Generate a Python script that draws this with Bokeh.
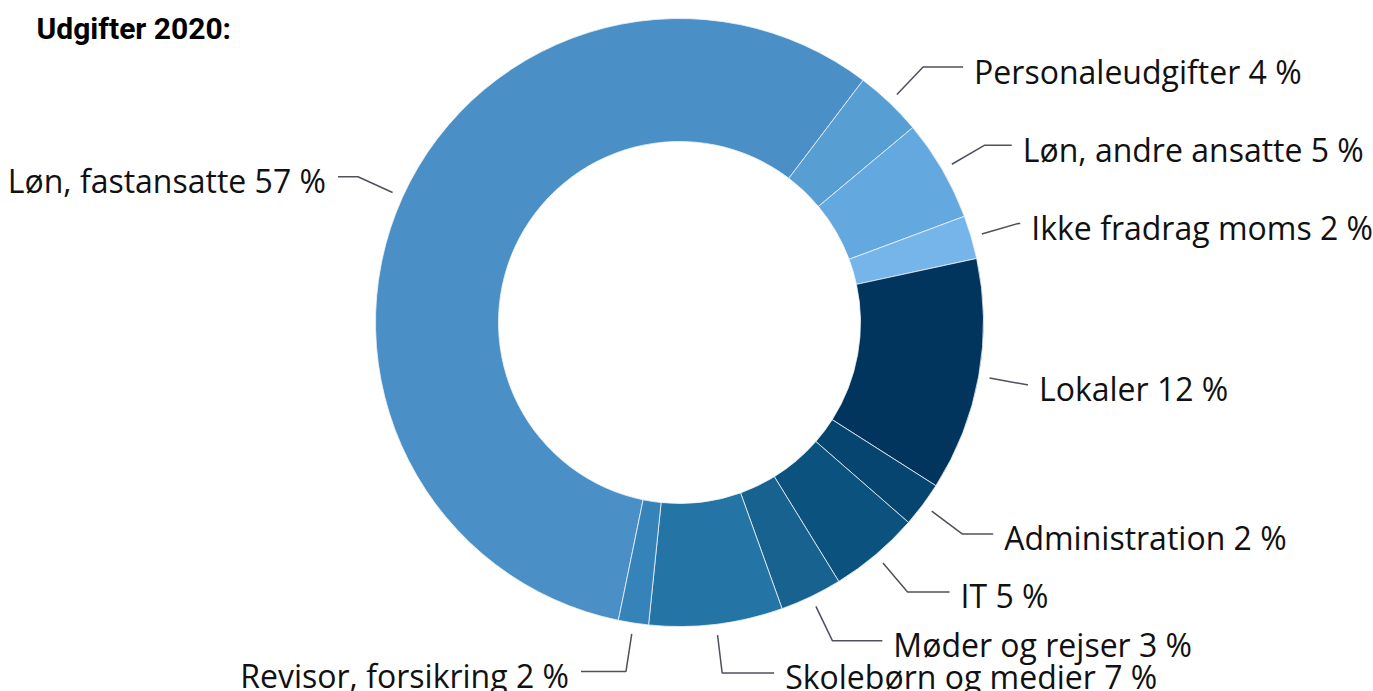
import math
from bokeh.plotting import figure
from bokeh.models import Range1d, ColumnDataSource
from bokeh.core.properties import value
from bokeh.embed import file_html
from bokeh.resources import INLINE

# ---- data ----
categories = ["Løn, fastansatte", "Personaleudgifter", "Løn, andre ansatte",
              "Ikke fradrag moms", "Lokaler", "Administration", "IT",
              "Møder og rejser", "Skolebørn og medier", "Revisor, forsikring"]
shares = [57.1, 3.6, 5.4, 2.3, 12.4, 2.4, 4.8, 3.3, 7.1, 1.6]
pct_labels = [57, 4, 5, 2, 12, 2, 5, 3, 7, 2]

# ---- styles / layout ----
colors = ["#4a90c6", "#579ed3", "#63a8de", "#75b5ea", "#02355d",
          "#05456f", "#0b527f", "#17628f", "#2474a5", "#3683b9"]
connector_len = [20, 40, 27, 2, 1, 31, 42, 50, 52, 45]
start_deg = 191.6          # clockwise from top
cx, cy = 679, -322
r_in, r_out = 181, 304
r_touch, r_break = 315, 353
label_drop = 4

W, H = 1373, 691
p = figure(width=W, height=H, output_backend="svg", toolbar_location=None,
           x_range=Range1d(0, W), y_range=Range1d(-H, 0),
           x_axis_type=None, y_axis_type=None, min_border=0,
           min_border_left=0, min_border_right=0, min_border_top=0, min_border_bottom=0)
p.outline_line_color = None
p.grid.visible = False
p.background_fill_color = "white"
p.border_fill_color = "white"

total = sum(shares)
starts, ends, mids = [], [], []
acc = start_deg
for s in shares:
    a0 = acc
    a1 = acc + s / total * 360.0
    starts.append(math.radians(90 - a0))
    ends.append(math.radians(90 - a1))
    mids.append((a0 + a1) / 2.0)
    acc = a1

src = ColumnDataSource(dict(start=starts, end=ends, color=colors))
p.annular_wedge(x=cx, y=cy, inner_radius=r_in, outer_radius=r_out,
                start_angle="start", end_angle="end", direction="clock",
                fill_color="color", line_color="#eef4fa", line_width=0.8, source=src)

# connectors and labels
for cat, pct, m, L in zip(categories, pct_labels, mids, connector_len):
    th = math.radians(m)
    sx, sy = math.sin(th), math.cos(th)
    tx, ty = cx + r_touch * sx, cy + r_touch * sy
    bx, by = cx + r_break * sx, cy + r_break * sy
    right = sx >= 0
    ex = bx + L if right else bx - L
    p.line([tx, bx, ex], [ty, by, by], line_color="#50505e", line_width=1.5)
    txt_x = ex + 11 if right else ex - 12
    p.text([txt_x], [by - label_drop], text=[f"{cat} {pct} %"],
           text_align="left" if right else "right", text_baseline="alphabetic",
           text_font=value("Open Sans"), text_font_size="32px", text_color="#111111")

# title
p.text([36], [-28], text=["Udgifter 2020:"], text_align="left", text_baseline="alphabetic",
       text_font=value("Roboto"), text_font_style="bold", text_font_size="30px",
       text_color="#000000")

open("out.html", "w").write(file_html(p, INLINE))
